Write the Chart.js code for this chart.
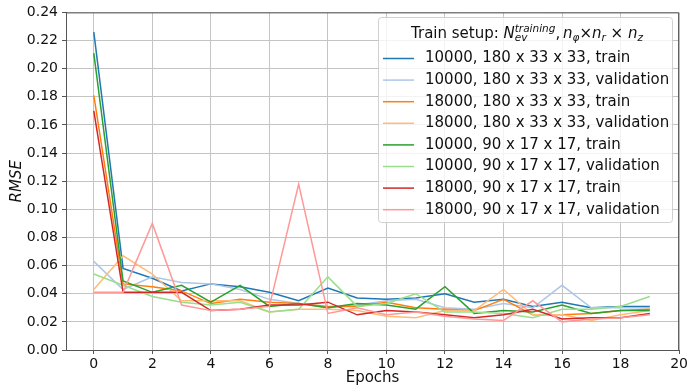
<!DOCTYPE html>
<html>
<head>
<meta charset="utf-8">
<script src="https://cdn.jsdelivr.net/npm/chart.js@4.4.0/dist/chart.umd.min.js"></script>
<style>
    html, body { margin: 0; padding: 0; background: #fff; }
    #wrap { width: 690px; height: 390px; }
</style>
</head>
<body>
<div id="wrap"><canvas id="myChart" width="690" height="390"></canvas></div>
<script>
// Epoch numbers and axis ticks
const epochs = [0, 1, 2, 3, 4, 5, 6, 7, 8, 9, 10, 11, 12, 13, 14, 15, 16, 17, 18, 19];
const xTicks = [0, 2, 4, 6, 8, 10, 12, 14, 16, 18, 20];
const yTicks = [0, 0.02, 0.04, 0.06, 0.08, 0.10, 0.12, 0.14, 0.16, 0.18, 0.20, 0.22, 0.24];

// Legend labels
const seriesLabels = [
    '10000, 180 x 33 x 33, train',
    '10000, 180 x 33 x 33, validation',
    '18000, 180 x 33 x 33, train',
    '18000, 180 x 33 x 33, validation',
    '10000, 90 x 17 x 17, train',
    '10000, 90 x 17 x 17, validation',
    '18000, 90 x 17 x 17, train',
    '18000, 90 x 17 x 17, validation'
];

// RMSE per epoch
const train10k180 = [0.226, 0.058, 0.051, 0.042, 0.047, 0.045, 0.041, 0.035, 0.044, 0.037, 0.036, 0.037, 0.040, 0.034, 0.036, 0.031, 0.034, 0.030, 0.031, 0.031];
const val10k180 = [0.063, 0.043, 0.052, 0.048, 0.047, 0.043, 0.036, 0.033, 0.030, 0.032, 0.035, 0.036, 0.030, 0.029, 0.033, 0.030, 0.046, 0.030, 0.030, 0.030];
const train18k180 = [0.181, 0.047, 0.045, 0.042, 0.033, 0.036, 0.034, 0.033, 0.031, 0.031, 0.034, 0.030, 0.029, 0.028, 0.036, 0.025, 0.025, 0.026, 0.028, 0.029];
const val18k180 = [0.043, 0.067, 0.054, 0.035, 0.035, 0.035, 0.027, 0.029, 0.029, 0.028, 0.024, 0.023, 0.028, 0.028, 0.043, 0.025, 0.025, 0.021, 0.025, 0.028];
const train10k90 = [0.211, 0.049, 0.041, 0.046, 0.034, 0.046, 0.031, 0.033, 0.030, 0.033, 0.032, 0.029, 0.045, 0.026, 0.028, 0.027, 0.032, 0.026, 0.028, 0.028];
const val10k90 = [0.054, 0.046, 0.038, 0.034, 0.032, 0.034, 0.027, 0.029, 0.052, 0.031, 0.033, 0.040, 0.027, 0.027, 0.026, 0.023, 0.029, 0.029, 0.031, 0.038];
const train18k90 = [0.170, 0.041, 0.041, 0.041, 0.028, 0.029, 0.032, 0.032, 0.034, 0.025, 0.028, 0.027, 0.025, 0.023, 0.025, 0.029, 0.022, 0.023, 0.023, 0.026];
const val18k90 = [0.041, 0.041, 0.090, 0.032, 0.028, 0.029, 0.031, 0.118, 0.026, 0.030, 0.025, 0.027, 0.024, 0.022, 0.021, 0.035, 0.020, 0.022, 0.023, 0.025];

const seriesValues = [train10k180, val10k180, train18k180, val18k180, train10k90, val10k90, train18k90, val18k90];
const seriesColors = ['#1f77b4', '#aec7e8', '#ff7f0e', '#ffbb78', '#2ca02c', '#98df8a', '#d62728', '#ff9896'];

const FONT = '"DejaVu Sans", sans-serif';

// Draw the legend title with its sub/superscripts
function drawLegendTitle(ctx, x, baseline) {
    const big = 15, small = 10.5;
    const up = -6, down = 3.5;
    const put = (text, size, italic, dy) => {
        ctx.font = (italic ? 'italic ' : '') + size + 'px ' + FONT;
        ctx.fillText(text, x, baseline + dy);
        return ctx.measureText(text).width;
    };
    x += put('Train setup: ', big, false, 0);
    x += put('N', big, true, 0);
    const wSup = put('training', small, true, up);
    const wSub = put('ev', small, true, down);
    x += Math.max(wSup, wSub);
    x += put(', ', big, false, 0) - 2;
    x += put('n', big, true, 0);
    x += put('\u03c6', small, true, down);
    x += put('\u00d7', big, false, 0);
    x += put('n', big, true, 0);
    x += put('r', small, true, down);
    x += put(' \u00d7 ', big, false, 0);
    x += put('n', big, true, 0);
    put('z', small, true, down);
}

// Box around the plot and the legend on top
const framePlugin = {
    id: 'frame',
    afterDatasetsDraw(chart) {
        const { ctx, chartArea: a } = chart;
        ctx.save();
        ctx.strokeStyle = '#555';
        ctx.lineWidth = 1;
        ctx.beginPath();
        ctx.moveTo(a.left, a.top + 0.5);
        ctx.lineTo(a.right - 0.5, a.top + 0.5);
        ctx.lineTo(a.right - 0.5, a.bottom);
        ctx.stroke();
        ctx.restore();
    },
    afterDraw(chart) {
        const ctx = chart.ctx;
        const bx = 378.5, by = 17.5, bw = 294, bh = 205;
        ctx.save();
        ctx.beginPath();
        ctx.roundRect(bx, by, bw, bh, 3);
        ctx.fillStyle = 'rgba(255,255,255,0.8)';
        ctx.fill();
        ctx.strokeStyle = 'rgba(204,204,204,0.9)';
        ctx.lineWidth = 1;
        ctx.stroke();

        ctx.fillStyle = '#111';
        ctx.textBaseline = 'alphabetic';
        ctx.textAlign = 'left';
        drawLegendTitle(ctx, 411, 37.5);

        ctx.textBaseline = 'middle';
        chart.data.datasets.forEach((ds, i) => {
            const y = 58.5 + i * 21.6;
            ctx.strokeStyle = ds.borderColor;
            ctx.lineWidth = 1.5;
            ctx.beginPath();
            ctx.moveTo(383, y);
            ctx.lineTo(414, y);
            ctx.stroke();
            ctx.fillStyle = '#111';
            ctx.font = '15px ' + FONT;
            ctx.fillText(ds.label, 425, y);
        });
        ctx.restore();
    }
};

const datasets = seriesValues.map((vals, i) => ({
    label: seriesLabels[i],
    data: epochs.map((e, k) => ({ x: e, y: vals[k] })),
    borderColor: seriesColors[i],
    backgroundColor: seriesColors[i],
    borderWidth: 1.5,
    pointRadius: 0,
    tension: 0,
    fill: false,
    order: seriesValues.length - i
}));

const ctx = document.getElementById('myChart').getContext('2d');

new Chart(ctx, {
    type: 'line',
    data: { datasets: datasets },
    options: {
        responsive: false,
        animation: false,
        devicePixelRatio: 1,
        layout: { padding: { top: 10, right: 9, left: 0, bottom: 0 } },
        plugins: {
            legend: { display: false },
            tooltip: { enabled: false }
        },
        scales: {
            x: {
                type: 'linear',
                min: -0.95,
                max: 20,
                afterBuildTicks: scale => { scale.ticks = xTicks.map(v => ({ value: v })); },
                afterFit: scale => { scale.height = 40; },
                ticks: {
                    color: '#111',
                    font: { family: FONT, size: 14 },
                    padding: 2,
                    maxRotation: 0,
                    autoSkip: false
                },
                grid: { color: '#c4c4c4', lineWidth: 1, tickLength: 4, tickColor: '#555' },
                border: { display: true, color: '#555', width: 1 },
                title: {
                    display: true,
                    text: 'Epochs',
                    color: '#111',
                    font: { family: FONT, size: 15 },
                    padding: { top: 0, bottom: 3 }
                }
            },
            y: {
                min: 0,
                max: 0.24,
                afterBuildTicks: scale => { scale.ticks = yTicks.map(v => ({ value: v })); },
                afterFit: scale => { scale.width = 66; },
                ticks: {
                    color: '#111',
                    font: { family: FONT, size: 14 },
                    padding: 4,
                    callback: v => v.toFixed(2)
                },
                grid: { color: '#c4c4c4', lineWidth: 1, tickLength: 4, tickColor: '#555' },
                border: { display: true, color: '#555', width: 1 },
                title: {
                    display: true,
                    text: 'RMSE',
                    color: '#111',
                    font: { family: FONT, size: 15, style: 'italic' },
                    padding: { top: 8, bottom: 0 }
                }
            }
        }
    },
    plugins: [framePlugin]
});
</script>
</body>
</html>
